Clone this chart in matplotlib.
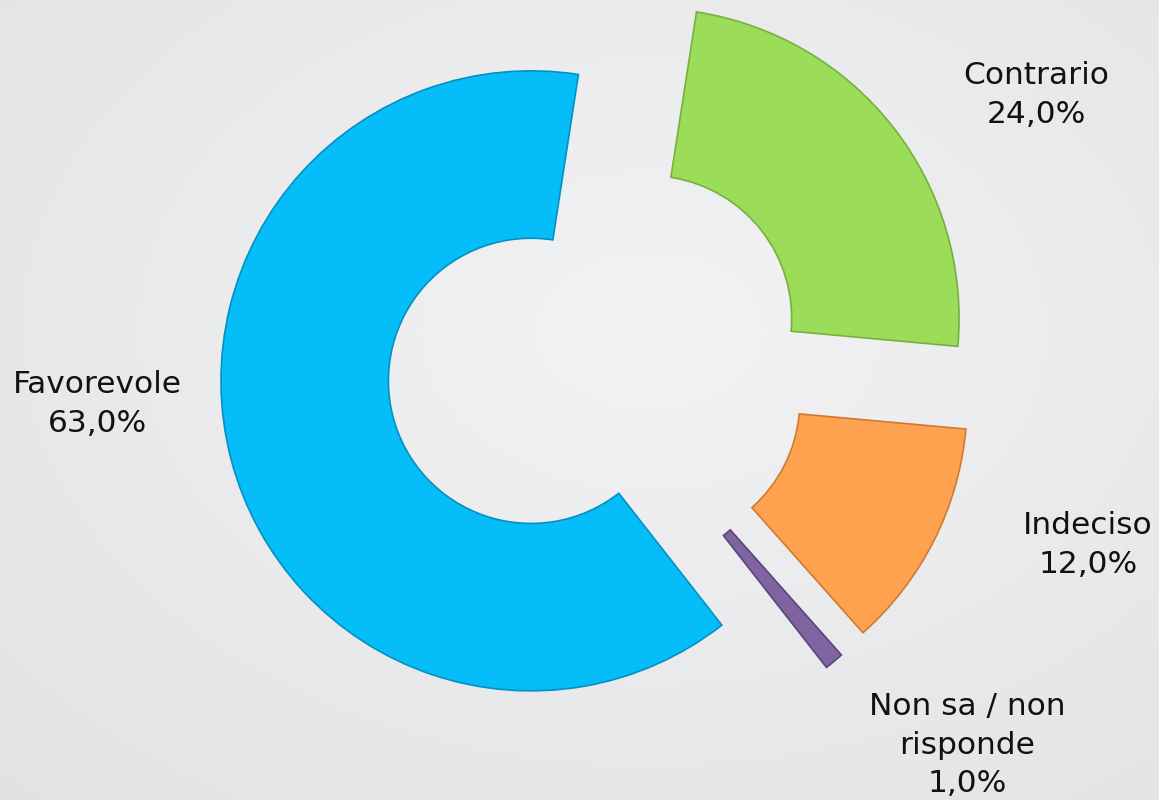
import numpy as np
import matplotlib.pyplot as plt

# ===== DATA =====
labels = ['Favorevole', 'Contrario', 'Indeciso', 'Non sa / non\nrisponde']
values = [63.0, 24.0, 12.0, 1.0]
colors = ['#05BDF9', '#9BDC58', '#FFA24F', '#8064A2']
edges = ['#0590C0', '#78B040', '#D07A30', '#5A4578']
explode = [0.19, 0.25, 0.25, 0.24]   # fraction of the radius

# label centers in pixel coords (x, y from top)
label_pos = [(97, 404), (1036, 95), (1088, 545), (967, 745)]

W, H = 1159, 800
R = 310
fig = plt.figure(figsize=(W / 100, H / 100), dpi=100)
ax = fig.add_axes([0, 0, 1, 1])

# soft grey background, lighter towards the middle
yy, xx = np.mgrid[0:H, 0:W]
d = np.sqrt(((xx - 650) / W) ** 2 + ((yy - 330) / H) ** 2)
bg = 0.955 - 0.08 * d
ax.imshow(np.dstack([bg - 0.004, bg - 0.002, bg + 0.004]).clip(0, 1),
          extent=(0, W, 0, H), origin='upper', zorder=0)

# pie explode works in data units, so scale by the radius
wedges, _ = ax.pie(values, colors=colors, explode=[e * R for e in explode],
                   startangle=-52, counterclock=False, radius=R,
                   center=(588, H - 366),
                   wedgeprops=dict(width=R * 0.54, linewidth=1.2))
for w, ec in zip(wedges, edges):
    w.set_edgecolor(ec)
    w.set_zorder(2)

for lab, v, (px, py) in zip(labels, values, label_pos):
    txt = f"{lab}\n{v:.1f}%".replace('.', ',')
    ax.text(px, H - py, txt, ha='center', va='center', fontsize=22.5,
            color='#111111', linespacing=1.42, zorder=3)

ax.set_xlim(0, W)
ax.set_ylim(0, H)
ax.set_aspect('equal')
ax.axis('off')

fig.savefig('out.png', dpi=100)
